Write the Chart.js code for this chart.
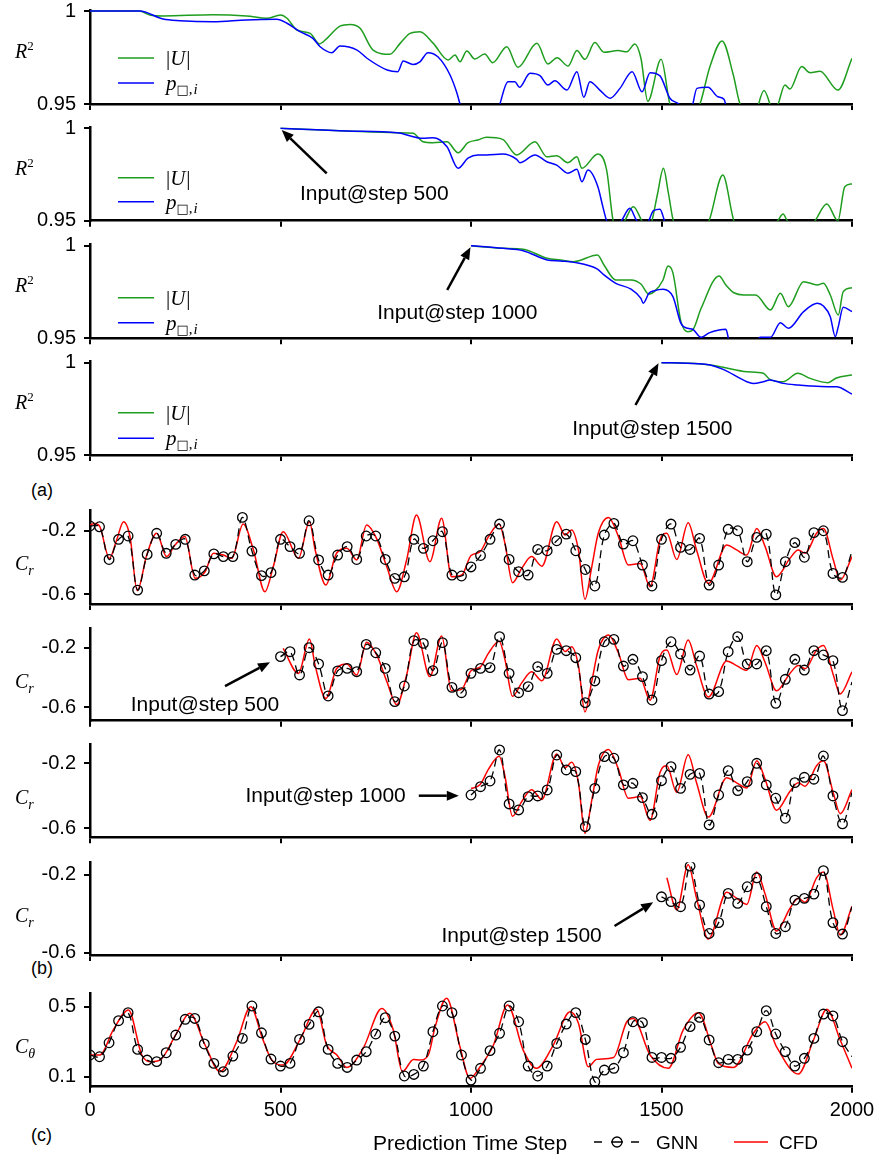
<!DOCTYPE html>
<html>
<head>
<meta charset="utf-8">
<script src="https://cdn.jsdelivr.net/npm/chart.js@4.4.1/dist/chart.umd.min.js"></script>
<style>
  body { margin: 0; background: #fff; width: 879px; height: 1156px; position: relative; overflow: hidden; }
  canvas { position: absolute; left: 0; }
  .tag { position: absolute; left: 31px; font: 18px "Liberation Sans", Arial, sans-serif; color: #000; }
</style>
</head>
<body>
<div class="tag" style="top:480px">(a)</div>
<div class="tag" style="top:958px">(b)</div>
<div class="tag" style="top:1125px">(c)</div>
<script>
// R^2 of |U| and p over prediction steps, one panel per input step
const u1Steps = [0,130,157,192,323,411,464,500,517,543,578,602,622,656,683,709,743,787,814,840,866,901,940,958,971,989,1010,1036,1057,1094,1123,1173,1202,1226,1255,1278,1299,1325,1349,1386,1409,1430,1446,1464,1499,1522,1560,1601,1627,1659,1688,1706,1740,1769,1795,1806,1824,1837,1868,1890,1916,1963,2000];
const u1 = [1.0,1.0,0.9978,0.9973,0.9980,0.9973,0.9961,0.9978,0.9961,0.9898,0.9880,0.9823,0.9853,0.9919,0.9928,0.9907,0.9790,0.9767,0.9826,0.9880,0.9889,0.9826,0.9737,0.9763,0.9727,0.9785,0.9742,0.9769,0.9722,0.9808,0.9697,0.9826,0.9715,0.9749,0.9704,0.9787,0.9740,0.9830,0.9778,0.9787,0.9781,0.9823,0.9746,0.9515,0.9740,0.9500,0.9350,0.9500,0.9700,0.9839,0.9660,0.9500,0.9420,0.9572,0.9460,0.9500,0.9602,0.9580,0.9701,0.9668,0.9676,0.9575,0.9746];
const p1Steps = [0,130,192,236,323,411,490,517,551,585,604,635,656,701,727,780,808,822,848,866,887,913,945,963,971,1000,1050,1076,1097,1115,1127,1155,1181,1202,1220,1252,1278,1296,1312,1338,1365,1391,1423,1449,1470,1496,1522,1543,1575,1593,1622,1648,1664,1680,1800,2000];
const p1 = [1.0,1.0,0.9957,0.9948,0.9942,0.9952,0.9955,0.9934,0.9889,0.9853,0.9808,0.9776,0.9812,0.9790,0.9746,0.9683,0.9674,0.9731,0.9713,0.9727,0.9776,0.9754,0.9656,0.9559,0.9500,0.9300,0.9300,0.9500,0.9620,0.9620,0.9590,0.9665,0.9652,0.9602,0.9625,0.9575,0.9674,0.9536,0.9620,0.9575,0.9531,0.9584,0.9674,0.9566,0.9668,0.9651,0.9531,0.9504,0.9450,0.9584,0.9590,0.9539,0.9525,0.9400,0.9300,0.9200];

const u2Steps = [500,675,806,848,874,900,937,966,992,1018,1041,1083,1120,1168,1199,1225,1254,1278,1291,1333,1356,1373,1390,1404,1426,1448,1462,1475,1490,1505,1518,1531,1580,1625,1661,1690,1740,1805,1819,1830,1870,1903,1934,1963,1981,2000];
const u2 = [1.0,0.9985,0.9976,0.9973,0.9927,0.9922,0.9927,0.9868,0.9922,0.9937,0.9951,0.9940,0.9856,0.9927,0.9846,0.9852,0.9814,0.9846,0.9784,0.9861,0.9774,0.9500,0.9440,0.9500,0.9576,0.9500,0.9440,0.9500,0.9650,0.9784,0.9650,0.9500,0.9350,0.9500,0.9747,0.9500,0.9380,0.9500,0.9536,0.9500,0.9420,0.9500,0.9590,0.9500,0.9684,0.9699];
const p2Steps = [500,675,806,874,900,937,966,992,1018,1041,1083,1120,1128,1168,1199,1225,1254,1278,1291,1307,1333,1346,1356,1375,1395,1417,1435,1460,1479,1496,1508,1530,1700,2000];
const p2 = [1.0,0.9985,0.9976,0.9946,0.9949,0.9900,0.9784,0.9838,0.9856,0.9856,0.9861,0.9832,0.9814,0.9856,0.9819,0.9801,0.9757,0.9778,0.9711,0.9774,0.9684,0.9576,0.9500,0.9450,0.9500,0.9567,0.9500,0.9480,0.9554,0.9562,0.9500,0.9400,0.9300,0.9200];

const u3Steps = [1000,1084,1137,1200,1235,1270,1332,1349,1380,1420,1446,1467,1481,1504,1517,1530,1551,1569,1582,1604,1651,1669,1690,1716,1747,1786,1812,1833,1873,1909,1925,1943,1964,1977,2000];
const u3 = [1.0,0.9986,0.9981,0.9932,0.9923,0.9914,0.9950,0.9896,0.9815,0.9815,0.9793,0.9738,0.9752,0.9815,0.9890,0.9853,0.9590,0.9536,0.9545,0.9662,0.9836,0.9788,0.9746,0.9734,0.9734,0.9653,0.9743,0.9671,0.9806,0.9788,0.9797,0.9734,0.9626,0.9752,0.9773];
const p3Steps = [1000,1084,1137,1200,1235,1270,1332,1349,1380,1420,1446,1452,1467,1481,1504,1530,1551,1569,1582,1604,1625,1651,1669,1677,1700,1740,1759,1786,1812,1833,1873,1909,1925,1943,1956,1964,1977,2000];
const p3 = [1.0,0.9986,0.9973,0.9923,0.9917,0.9910,0.9873,0.9842,0.9797,0.9765,0.9716,0.9689,0.9743,0.9757,0.9765,0.9725,0.9581,0.9554,0.9549,0.9505,0.9529,0.9545,0.9549,0.9490,0.9450,0.9450,0.9505,0.9505,0.9584,0.9554,0.9644,0.9689,0.9674,0.9617,0.9509,0.9563,0.9667,0.9644];

const u4Steps = [1500,1567,1628,1662,1724,1767,1784,1819,1858,1890,1937,1959,2000];
const u4 = [1.0,0.9997,0.9988,0.9975,0.9951,0.9943,0.9910,0.9897,0.9943,0.9915,0.9892,0.9917,0.9933];
const p4Steps = [1500,1567,1628,1662,1724,1741,1767,1784,1819,1858,1890,1937,1959,2000];
const p4 = [1.0,0.9997,0.9988,0.9964,0.9897,0.9888,0.9897,0.9906,0.9888,0.9879,0.9874,0.9870,0.9870,0.9830];

// radial force coefficient, CFD reference
const cfdCrSteps = [0,13,26,51,70,88,105,124,149,175,201,223,249,276,302,324,350,372,402,429,459,481,507,547,576,591,619,647,674,700,726,752,779,805,831,857,892,923,949,976,1000,1024,1046,1074,1089,1109,1133,1159,1186,1225,1247,1264,1282,1299,1317,1334,1361,1387,1413,1444,1470,1496,1514,1540,1570,1592,1623,1671,1697,1724,1750,1772,1802,1837,1859,1877,1907,1925,1951,1969,2000];
const cfdCr = [-0.163,-0.153,-0.174,-0.373,-0.257,-0.142,-0.236,-0.577,-0.352,-0.215,-0.362,-0.289,-0.236,-0.499,-0.457,-0.341,-0.352,-0.373,-0.157,-0.320,-0.583,-0.426,-0.205,-0.373,-0.142,-0.320,-0.541,-0.341,-0.310,-0.383,-0.163,-0.247,-0.426,-0.583,-0.383,-0.100,-0.394,-0.121,-0.489,-0.478,-0.355,-0.331,-0.236,-0.157,-0.278,-0.526,-0.436,-0.362,-0.422,-0.142,-0.226,-0.194,-0.320,-0.631,-0.426,-0.215,-0.115,-0.236,-0.415,-0.405,-0.552,-0.257,-0.215,-0.380,-0.148,-0.320,-0.531,-0.289,-0.320,-0.352,-0.185,-0.299,-0.489,-0.373,-0.320,-0.341,-0.215,-0.185,-0.383,-0.510,-0.362];

// GNN rollouts, one value every 25 steps from the input step
const gnnStep = 25;
const gnnCr1 = [-0.169,-0.174,-0.380,-0.253,-0.232,-0.573,-0.348,-0.215,-0.341,-0.285,-0.253,-0.478,-0.452,-0.345,-0.362,-0.362,-0.115,-0.327,-0.482,-0.463,-0.253,-0.299,-0.341,-0.136,-0.383,-0.478,-0.352,-0.299,-0.380,-0.232,-0.232,-0.380,-0.499,-0.489,-0.253,-0.310,-0.262,-0.205,-0.478,-0.484,-0.427,-0.355,-0.253,-0.157,-0.380,-0.457,-0.478,-0.317,-0.325,-0.262,-0.220,-0.325,-0.443,-0.547,-0.226,-0.153,-0.283,-0.262,-0.415,-0.547,-0.253,-0.157,-0.304,-0.317,-0.247,-0.541,-0.415,-0.190,-0.199,-0.394,-0.241,-0.220,-0.603,-0.394,-0.274,-0.366,-0.211,-0.199,-0.468,-0.493,-0.328];
const gnnCr2 = [-0.260,-0.227,-0.383,-0.200,-0.309,-0.524,-0.356,-0.339,-0.361,-0.178,-0.234,-0.339,-0.562,-0.457,-0.153,-0.171,-0.354,-0.166,-0.466,-0.502,-0.372,-0.339,-0.334,-0.126,-0.372,-0.502,-0.461,-0.327,-0.372,-0.211,-0.220,-0.267,-0.569,-0.423,-0.160,-0.144,-0.323,-0.278,-0.394,-0.551,-0.287,-0.160,-0.242,-0.350,-0.256,-0.511,-0.495,-0.227,-0.126,-0.309,-0.309,-0.220,-0.573,-0.412,-0.278,-0.350,-0.220,-0.249,-0.287,-0.622,-0.430];
const gnnCr3 = [-0.395,-0.344,-0.309,-0.118,-0.450,-0.487,-0.405,-0.401,-0.364,-0.149,-0.241,-0.251,-0.590,-0.354,-0.159,-0.169,-0.333,-0.323,-0.411,-0.514,-0.307,-0.221,-0.354,-0.268,-0.262,-0.579,-0.395,-0.245,-0.368,-0.313,-0.200,-0.333,-0.415,-0.538,-0.319,-0.286,-0.298,-0.155,-0.401,-0.573,-0.380];
const gnnCr4 = [-0.313,-0.338,-0.364,-0.155,-0.355,-0.502,-0.446,-0.295,-0.347,-0.261,-0.215,-0.364,-0.502,-0.467,-0.330,-0.321,-0.299,-0.178,-0.446,-0.505,-0.364];

// tangential force coefficient
const cfdCtSteps = [0,26,61,101,136,162,184,227,262,302,341,385,422,451,477,507,551,595,621,648,674,717,766,796,820,849,866,888,906,936,971,997,1024,1059,1096,1137,1172,1216,1260,1282,1308,1330,1374,1409,1426,1470,1518,1557,1597,1632,1649,1689,1741,1772,1802,1859,1899,1934,1969,2000];
const cfdCt = [0.224,0.224,0.367,0.481,0.224,0.186,0.195,0.348,0.462,0.281,0.129,0.300,0.500,0.329,0.195,0.167,0.310,0.485,0.281,0.224,0.153,0.262,0.490,0.367,0.129,0.199,0.195,0.224,0.386,0.548,0.271,0.090,0.157,0.281,0.510,0.252,0.148,0.281,0.471,0.405,0.157,0.199,0.210,0.414,0.433,0.224,0.148,0.367,0.466,0.271,0.176,0.153,0.348,0.414,0.271,0.115,0.310,0.485,0.310,0.148];
const gnnCt = [0.224,0.214,0.294,0.420,0.466,0.256,0.195,0.186,0.237,0.338,0.428,0.433,0.287,0.176,0.129,0.218,0.319,0.504,0.351,0.201,0.161,0.176,0.313,0.399,0.471,0.256,0.176,0.153,0.195,0.243,0.344,0.437,0.332,0.104,0.113,0.161,0.357,0.504,0.466,0.224,0.081,0.148,0.249,0.348,0.504,0.414,0.161,0.104,0.161,0.290,0.401,0.466,0.313,0.071,0.138,0.148,0.237,0.414,0.409,0.210,0.210,0.205,0.268,0.386,0.439,0.310,0.180,0.199,0.199,0.252,0.357,0.477,0.344,0.243,0.161,0.205,0.319,0.458,0.447,0.300,0.214];

const xTicks = [0, 500, 1000, 1500, 2000];
const xTickLabels = ['0', '500', '1000', '1500', '2000'];
const r2TickLabels = ['1', '0.95'];
const crTickLabels = ['-0.2', '-0.6'];
const ctTickLabels = ['0.5', '0.1'];

const SANS = '"Liberation Sans", Arial, sans-serif';
const SERIF = '"Liberation Serif", "Times New Roman", serif';
const GREEN = '#1f9d1f', BLUE = '#0000ff', RED = '#ff0000';

Chart.defaults.font.family = SANS;
Chart.defaults.color = '#000';

const pts = (xs, ys) => xs.map((x, i) => ({ x, y: ys[i] }));
const fromStep = (start, ys) => ys.map((y, i) => ({ x: start + i * gnnStep, y }));

function rich(ctx, x, y, parts) {
  parts.forEach(p => {
    ctx.font = p.f;
    ctx.fillText(p.t, x, y + (p.dy || 0));
    x += ctx.measureText(p.t).width + (p.gap || 0);
  });
}

function arrow(ctx, x0, y0, x1, y1) {
  const a = Math.atan2(y1 - y0, x1 - x0), L = 12, W = 5;
  const bx = x1 - L * Math.cos(a), by = y1 - L * Math.sin(a);
  ctx.strokeStyle = '#000';
  ctx.lineWidth = 2.5;
  ctx.beginPath(); ctx.moveTo(x0, y0); ctx.lineTo(bx, by); ctx.stroke();
  ctx.beginPath();
  ctx.moveTo(x1, y1);
  ctx.lineTo(bx + W * Math.sin(a), by - W * Math.cos(a));
  ctx.lineTo(bx - W * Math.sin(a), by + W * Math.cos(a));
  ctx.closePath(); ctx.fill();
}

const R2_LABEL = [{ t: 'R', f: 'italic 20px ' + SERIF }, { t: '2', f: '13px ' + SERIF, dy: -8 }];
const CR_LABEL = [{ t: 'C', f: 'italic 20px ' + SERIF }, { t: 'r', f: 'italic 14px ' + SERIF, dy: 5 }];
const CT_LABEL = [{ t: 'C', f: 'italic 20px ' + SERIF }, { t: 'θ', f: 'italic 14px ' + SERIF, dy: 5 }];
const U_KEY = [{ t: '|', f: '21px ' + SERIF }, { t: 'U', f: 'italic 21px ' + SERIF, gap: 1 }, { t: '|', f: '21px ' + SERIF }];
const P_KEY = [{ t: 'p', f: 'italic 21px ' + SERIF }, { t: '□', f: '13px "DejaVu Sans"', dy: 4 }, { t: ',', f: '15px ' + SERIF, dy: 4, gap: 1 }, { t: 'i', f: 'italic 15px ' + SERIF, dy: 4 }];

// axis labels, legends, arrows and the footer
const decor = {
  id: 'decor',
  afterDraw(chart, args, o) {
    const ctx = chart.ctx, area = chart.chartArea;
    const sx = chart.scales.x, sy = chart.scales.y;
    ctx.save();
    ctx.fillStyle = '#000';
    ctx.textAlign = 'left';
    ctx.textBaseline = 'alphabetic';
    if (o.ylab) rich(ctx, o.ylab.x, area.top + o.ylab.dy, o.ylab.parts);
    (o.keys || []).forEach(k => {
      const y = area.top + k.dy;
      ctx.strokeStyle = k.color;
      ctx.lineWidth = 1.5;
      ctx.beginPath(); ctx.moveTo(118, y); ctx.lineTo(154, y); ctx.stroke();
      rich(ctx, 166, y + 7, k.parts);
    });
    (o.notes || []).forEach(n => {
      const ax = sx.getPixelForValue(n.at[0]), ay = sy.getPixelForValue(n.at[1]);
      arrow(ctx, ax + n.tail[0], ay + n.tail[1], ax + n.head[0], ay + n.head[1]);
      ctx.font = '21px ' + SANS;
      ctx.fillText(n.text, ax + n.label[0], ay + n.label[1]);
    });
    if (o.footer) {
      const y = o.footer.y;
      ctx.font = '21px ' + SANS;
      ctx.fillText('Prediction Time Step', 373, y + 8);
      ctx.strokeStyle = '#000';
      ctx.lineWidth = 1.3;
      ctx.beginPath();
      ctx.moveTo(594, y); ctx.lineTo(602, y);
      ctx.moveTo(611, y); ctx.lineTo(623, y);
      ctx.moveTo(631, y); ctx.lineTo(639, y);
      ctx.stroke();
      ctx.beginPath(); ctx.arc(617, y, 5, 0, Math.PI * 2); ctx.stroke();
      ctx.font = '19px ' + SANS;
      ctx.fillText('GNN', 656, y + 7);
      ctx.strokeStyle = RED;
      ctx.lineWidth = 1.5;
      ctx.beginPath(); ctx.moveTo(734, y); ctx.lineTo(768, y); ctx.stroke();
      ctx.fillText('CFD', 779, y + 7);
    }
    ctx.restore();
  }
};

function greenLine(data) {
  return { data, borderColor: GREEN, borderWidth: 1.5, pointRadius: 0, cubicInterpolationMode: 'monotone' };
}
function blueLine(data) {
  return { data, borderColor: BLUE, borderWidth: 1.5, pointRadius: 0, cubicInterpolationMode: 'monotone' };
}
function gnnLine(data) {
  return {
    label: 'GNN', data, borderColor: '#000', borderWidth: 1.3, borderDash: [8, 5], tension: 0.35,
    pointRadius: c => (c.dataIndex === c.dataset.data.length - 1 ? 0 : 4.8),
    pointBorderColor: '#000', pointBackgroundColor: 'rgba(0,0,0,0)', pointBorderWidth: 1.3
  };
}
function cfdLine(data) {
  return { label: 'CFD', data, borderColor: RED, borderWidth: 1.5, pointRadius: 0, cubicInterpolationMode: 'monotone' };
}
const cfdFrom = start => pts(cfdCrSteps, cfdCr).filter(p => p.x >= start);

function panel(p) {
  const cv = document.createElement('canvas');
  const cTop = Math.floor(p.top) - 14;
  const cBot = p.last ? 1156 : Math.ceil(p.bottom) + 14;
  cv.width = 879;
  cv.height = cBot - cTop;
  cv.style.top = cTop + 'px';
  document.body.appendChild(cv);

  const [[v1, y1], [v2, y2]] = p.ticks;
  const k = (v1 - v2) / (y2 - y1);
  const yMax = v1 + (y1 - p.top) * k;
  const yMin = v2 - (p.bottom - y2) * k;

  return new Chart(cv, {
    type: 'line',
    data: { datasets: p.datasets },
    options: {
      responsive: false,
      animation: false,
      devicePixelRatio: 1,
      layout: { padding: { top: p.top - cTop, right: 27, left: 0, bottom: 0 } },
      plugins: { legend: { display: false }, tooltip: { enabled: false }, decor: p.decor },
      scales: {
        x: {
          type: 'linear', min: 0, max: 2000,
          afterBuildTicks: s => { s.ticks = xTicks.map(value => ({ value })); },
          afterFit: s => { s.height = cBot - p.bottom; s.paddingLeft = 0; s.paddingRight = 0; },
          grid: { drawOnChartArea: false, drawTicks: true, tickLength: 6, lineWidth: 2, color: '#000' },
          border: { display: true, color: '#000', width: 2.5 },
          ticks: { display: !!p.last, font: { size: 20 }, padding: 6, maxRotation: 0, callback: (v, i) => xTickLabels[i] }
        },
        y: {
          min: yMin, max: yMax,
          afterBuildTicks: s => { s.ticks = p.ticks.map(t => ({ value: t[0] })); },
          afterFit: s => { s.width = 90; s.paddingTop = 0; s.paddingBottom = 0; },
          grid: { drawOnChartArea: false, drawTicks: true, tickLength: 6, lineWidth: 2, color: '#000' },
          border: { display: true, color: '#000', width: 2.5 },
          ticks: { font: { size: 20 }, padding: 8, callback: (v, i) => p.tickLabels[i] }
        }
      }
    },
    plugins: [decor]
  });
}

const r2Label = { x: 15, dy: 47.7, parts: R2_LABEL };
const r2Keys = (a, b) => [{ color: GREEN, dy: a, parts: U_KEY }, { color: BLUE, dy: b, parts: P_KEY }];

panel({
  top: 10, bottom: 104, ticks: [[1, 11], [0.95, 104]], tickLabels: r2TickLabels,
  datasets: [blueLine(pts(p1Steps, p1)), greenLine(pts(u1Steps, u1))],
  decor: { ylab: r2Label, keys: r2Keys(48, 73) }
});
panel({
  top: 127.3, bottom: 220.7, ticks: [[1, 128.3], [0.95, 220.7]], tickLabels: r2TickLabels,
  datasets: [blueLine(pts(p2Steps, p2)), greenLine(pts(u2Steps, u2))],
  decor: { ylab: r2Label, keys: r2Keys(50.4, 74.4),
    notes: [{ at: [500, 1], head: [1.2, 1.7], tail: [46.2, 45], label: [19.5, 71.7], text: 'Input@step 500' }] }
});
panel({
  top: 244.7, bottom: 338.3, ticks: [[1, 245.7], [0.95, 338.3]], tickLabels: r2TickLabels,
  datasets: [blueLine(pts(p3Steps, p3)), greenLine(pts(u3Steps, u3))],
  decor: { ylab: r2Label, keys: r2Keys(53, 78),
    notes: [{ at: [1000, 1], head: [-0.5, 1.6], tail: [-23.8, 44.3], label: [-93.8, 73.6], text: 'Input@step 1000' }] }
});
panel({
  top: 361.7, bottom: 455, ticks: [[1, 362.7], [0.95, 455]], tickLabels: r2TickLabels,
  datasets: [blueLine(pts(p4Steps, p4)), greenLine(pts(u4Steps, u4))],
  decor: { ylab: r2Label, keys: r2Keys(51, 76.6),
    notes: [{ at: [1500, 1], head: [-3, 0.6], tail: [-26, 42.3], label: [-89.3, 72.3], text: 'Input@step 1500' }] }
});

const crLabel = { x: 15, dy: 60, parts: CR_LABEL };
panel({
  top: 510, bottom: 604, ticks: [[-0.2, 530.9], [-0.6, 594.4]], tickLabels: crTickLabels,
  datasets: [gnnLine(fromStep(0, gnnCr1)), cfdLine(cfdFrom(0))],
  decor: { ylab: crLabel }
});
panel({
  top: 628, bottom: 720.7, ticks: [[-0.2, 647.7], [-0.6, 707.3]], tickLabels: crTickLabels,
  datasets: [gnnLine(fromStep(500, gnnCr2)), cfdLine(cfdFrom(500))],
  decor: { ylab: crLabel,
    notes: [{ at: [500, gnnCr2[0]], head: [-10.5, 5.7], tail: [-55.5, 29.4], label: [-149.8, 54.4], text: 'Input@step 500' }] }
});
panel({
  top: 744, bottom: 837.3, ticks: [[-0.2, 763.3], [-0.6, 828.3]], tickLabels: crTickLabels,
  datasets: [gnnLine(fromStep(1000, gnnCr3)), cfdLine(cfdFrom(1000))],
  decor: { ylab: crLabel,
    notes: [{ at: [1000, gnnCr3[0]], head: [-12.2, 0.7], tail: [-52.2, 0.7], label: [-225.5, 7.3], text: 'Input@step 1000' }] }
});
panel({
  top: 862.3, bottom: 955, ticks: [[-0.2, 874.9], [-0.6, 952.5]], tickLabels: crTickLabels,
  datasets: [gnnLine(fromStep(1500, gnnCr4)), cfdLine(cfdFrom(1500))],
  decor: { ylab: crLabel,
    notes: [{ at: [1500, gnnCr4[0]], head: [-8.3, 5.5], tail: [-47, 29.2], label: [-220, 44.9], text: 'Input@step 1500' }] }
});
panel({
  top: 993, bottom: 1086.7, ticks: [[0.5, 1006.7], [0.1, 1076.7]], tickLabels: ctTickLabels, last: true,
  datasets: [gnnLine(fromStep(0, gnnCt)), cfdLine(pts(cfdCtSteps, cfdCt))],
  decor: { ylab: { x: 15, dy: 60, parts: CT_LABEL }, footer: { y: 1142 - (Math.floor(993) - 14) } }
});
</script>
</body>
</html>
